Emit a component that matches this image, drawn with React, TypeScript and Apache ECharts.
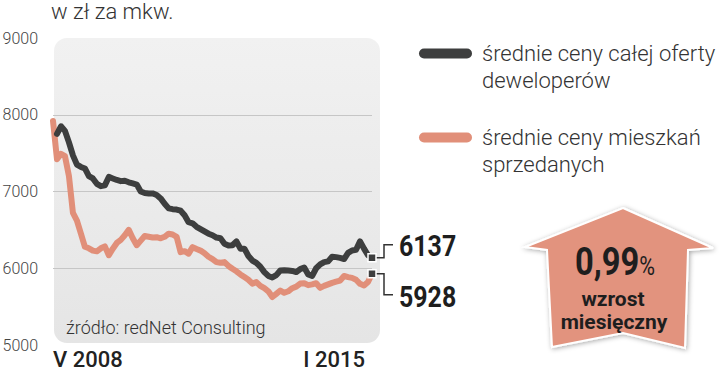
import React, { useEffect, useRef } from 'react';
import * as echarts from 'echarts';

const ROMAN = ['I', 'II', 'III', 'IV', 'V', 'VI', 'VII', 'VIII', 'IX', 'X', 'XI', 'XII'];
// monthly categories: V 2008 ... I 2015
const months: string[] = [];
for (let k = 4; k <= 84; k++) {
  months.push(ROMAN[k % 12] + ' ' + (2008 + Math.floor(k / 12)));
}

const offerName = 'średnie ceny całej oferty\ndeweloperów';
const soldName = 'średnie ceny mieszkań\nsprzedanych';

const offerPrices: (number | null)[] = [
  null, 7750, 7850, 7790, 7640, 7470, 7350, 7320, 7300, 7200,
  7170, 7100, 7070, 7080, 7190, 7170, 7150, 7135, 7140, 7120,
  7105, 7090, 7000, 6980, 6975, 6975, 6955, 6910, 6840, 6780,
  6770, 6765, 6750, 6690, 6600, 6585, 6540, 6510, 6480, 6450,
  6430, 6400, 6390, 6320, 6297, 6300, 6350, 6255, 6255, 6160,
  6100, 6070, 6020, 5950, 5900, 5880, 5910, 5970, 5975, 5970,
  5965, 5950, 5990, 6010, 5920, 5900, 6000, 6050, 6080, 6090,
  6150, 6145, 6135, 6120, 6200, 6232, 6240, 6350, 6255, 6170,
  6137,
];

const soldPrices: number[] = [
  7920, 7420, 7490, 7460, 7200, 6720, 6620, 6450, 6280, 6260,
  6230, 6220, 6260, 6285, 6170, 6255, 6330, 6370, 6430, 6500,
  6390, 6300, 6360, 6420, 6410, 6400, 6405, 6390, 6410, 6450,
  6440, 6410, 6210, 6223, 6190, 6275, 6250, 6230, 6195, 6150,
  6120, 6080, 6071, 6080, 6030, 5993, 5960, 5920, 5885, 5850,
  5800, 5820, 5770, 5740, 5700, 5625, 5667, 5710, 5680, 5700,
  5740, 5760, 5800, 5805, 5780, 5790, 5805, 5745, 5770, 5790,
  5810, 5825, 5840, 5900, 5885, 5875, 5850, 5797, 5775, 5820,
  5928,
];

const lastOffer = 6137;
const lastSold = 5928;
const monthlyGrowth = '0,99';

const DARK = '#3d3e3e';
const SALMON = '#e18f79';
const FONT = 'Roboto, "Noto Sans", sans-serif';

export default function App() {
  const ref = useRef<HTMLDivElement>(null);
  useEffect(() => {
    const chart = echarts.init(ref.current!, null, { renderer: 'svg' });
    const last = months.length - 1;
    const option: any = {
      animation: false,
      backgroundColor: '#ffffff',
      textStyle: { fontFamily: FONT },
      title: {
        text: 'w zł za mkw.',
        left: 51,
        top: 0,
        padding: 0,
        textStyle: { fontSize: 22, fontWeight: 300, color: '#333', fontFamily: FONT },
      },
      legend: {
        orient: 'vertical',
        left: 419,
        top: 13,
        padding: 0,
        itemGap: 3,
        itemWidth: 53,
        itemHeight: 10,
        selectedMode: false,
        icon: 'path://M5,0L48,0A5,5,0,0,1,48,10L5,10A5,5,0,0,1,5,0Z',
        data: [offerName, soldName],
        formatter: (name: string) => '\n' + name,
        textStyle: {
          fontSize: 22,
          fontWeight: 300,
          color: '#333',
          fontFamily: FONT,
          lineHeight: 27,
          padding: [0, 0, 0, 5],
        },
      },
      grid: { left: 53, right: 348, top: 38, bottom: 27, outerBoundsMode: 'none' },
      xAxis: {
        type: 'category',
        data: months,
        boundaryGap: false,
        axisLine: { show: false },
        axisTick: { show: false },
        splitLine: { show: false },
        axisLabel: {
          interval: (idx: number) => idx === 0 || idx === last,
          margin: 3,
          fontSize: 22,
          fontWeight: 500,
          color: '#222',
          fontFamily: FONT,
          alignMinLabel: 'left',
          alignMaxLabel: 'right',
          padding: [0, 7, 0, 0],
        },
      },
      yAxis: {
        type: 'value',
        min: 5000,
        max: 9000,
        interval: 1000,
        axisLine: { show: false },
        axisTick: { show: false },
        axisLabel: {
          margin: 15,
          fontSize: 16,
          fontWeight: 300,
          color: '#444',
          fontFamily: FONT,
          formatter: (v: number) => String(v),
        },
        splitLine: {
          lineStyle: {
            width: 1,
            color: ['rgba(0,0,0,0)', '#c6c6c6', '#c6c6c6', '#c6c6c6', 'rgba(0,0,0,0)'],
          },
        },
      },
      series: [
        {
          name: soldName,
          type: 'line',
          data: soldPrices,
          showSymbol: false,
          symbol: 'none',
          itemStyle: { color: SALMON },
          lineStyle: { color: SALMON, width: 6, cap: 'round', join: 'round' },
          markPoint: {
            symbol: 'rect',
            symbolSize: 8,
            itemStyle: { color: DARK, borderColor: '#fff', borderWidth: 1.5 },
            label: { show: false },
            data: [{ coord: [last, lastSold] }],
          },
        },
        {
          name: offerName,
          type: 'line',
          data: offerPrices,
          showSymbol: false,
          symbol: 'none',
          itemStyle: { color: DARK },
          lineStyle: { color: DARK, width: 6, cap: 'round', join: 'round' },
          markPoint: {
            symbol: 'rect',
            symbolSize: 8,
            itemStyle: { color: DARK, borderColor: '#fff', borderWidth: 1.5 },
            label: { show: false },
            data: [{ coord: [last, lastOffer] }],
          },
        },
      ],
    };
    chart.setOption(option);

    const pO = chart.convertToPixel({ seriesIndex: 1 }, [last, lastOffer]) as number[];
    const pS = chart.convertToPixel({ seriesIndex: 0 }, [last, lastSold]) as number[];
    const g0 = chart.convertToPixel({ seriesIndex: 0 }, [0, 9000]) as number[];
    const g1 = chart.convertToPixel({ seriesIndex: 0 }, [last, 5000]) as number[];

    chart.setOption({
      graphic: [
        {
          id: 'box',
          type: 'rect',
          z: -100,
          silent: true,
          shape: { x: g0[0] + 1, y: g0[1], width: g1[0] - g0[0] + 7, height: g1[1] - g0[1] - 2, r: 13 },
          style: {
            fill: new echarts.graphic.LinearGradient(0, 0, 0, 1, [
              { offset: 0, color: '#f1f1f1' },
              { offset: 1, color: '#e5e5e5' },
            ]),
          },
        },
        {
          id: 'src',
          type: 'text',
          x: 66,
          y: 327,
          style: { text: 'źródło: redNet Consulting', fontSize: 18, fontWeight: 300, fontFamily: FONT, fill: '#333', verticalAlign: 'middle' },
        },
        {
          id: 'leadO',
          type: 'polyline',
          shape: { points: [[pO[0] + 4, pO[1]], [pO[0] + 12, pO[1]], [pO[0] + 12, pO[1] - 13], [pO[0] + 21, pO[1] - 13]] },
          style: { stroke: '#333', lineWidth: 1.5, fill: null },
        },
        {
          id: 'leadS',
          type: 'polyline',
          shape: { points: [[pS[0] + 4, pS[1]], [pS[0] + 12, pS[1]], [pS[0] + 12, pS[1] + 21], [pS[0] + 21, pS[1] + 21]] },
          style: { stroke: '#333', lineWidth: 1.5, fill: null },
        },
        {
          id: 'valO',
          type: 'text',
          x: pO[0] + 27,
          y: pO[1] - 11,
          scaleX: 0.86,
          style: { text: String(lastOffer), fontSize: 29, fontWeight: 'bold', fontFamily: FONT, fill: '#1e1e1e', verticalAlign: 'middle' },
        },
        {
          id: 'valS',
          type: 'text',
          x: pS[0] + 27,
          y: pS[1] + 24,
          scaleX: 0.86,
          style: { text: String(lastSold), fontSize: 29, fontWeight: 'bold', fontFamily: FONT, fill: '#1e1e1e', verticalAlign: 'middle' },
        },
        {
          id: 'arrow',
          type: 'polygon',
          shape: {
            points: [[623, 208], [713, 248], [688, 250], [685, 348], [623, 333], [552, 347], [547, 250], [525, 247]],
          },
          style: {
            fill: '#e2937e',
            stroke: '#ffffff',
            lineWidth: 2,
            shadowBlur: 5,
            shadowColor: 'rgba(0,0,0,0.35)',
            shadowOffsetX: 1,
            shadowOffsetY: 1,
          },
        },
        {
          id: 'pct',
          type: 'text',
          x: 575,
          y: 262,
          scaleX: 0.86,
          style: {
            text: '{a|' + monthlyGrowth + '}{b|%}',
            fontFamily: FONT,
            verticalAlign: 'middle',
            rich: {
              a: { fontSize: 38, fontWeight: 'bold', fill: '#1e1e1e', fontFamily: FONT },
              b: { fontSize: 25, fontWeight: 'normal', fill: '#1e1e1e', fontFamily: FONT, padding: [8, 0, 0, 0] },
            },
          },
        },
        {
          id: 'w1',
          type: 'text',
          x: 613,
          y: 299,
          style: { text: 'wzrost', fontSize: 21, fontWeight: 'bold', fontFamily: FONT, fill: '#1e1e1e', align: 'center', verticalAlign: 'middle' },
        },
        {
          id: 'w2',
          type: 'text',
          x: 614,
          y: 322,
          style: { text: 'miesięczny', fontSize: 21, fontWeight: 'bold', fontFamily: FONT, fill: '#1e1e1e', align: 'center', verticalAlign: 'middle' },
        },
      ],
    });
    return () => chart.dispose();
  }, []);
  return <div ref={ref} style={{ position: 'absolute', left: 0, top: 0, width: 720, height: 372 }} />;
}
